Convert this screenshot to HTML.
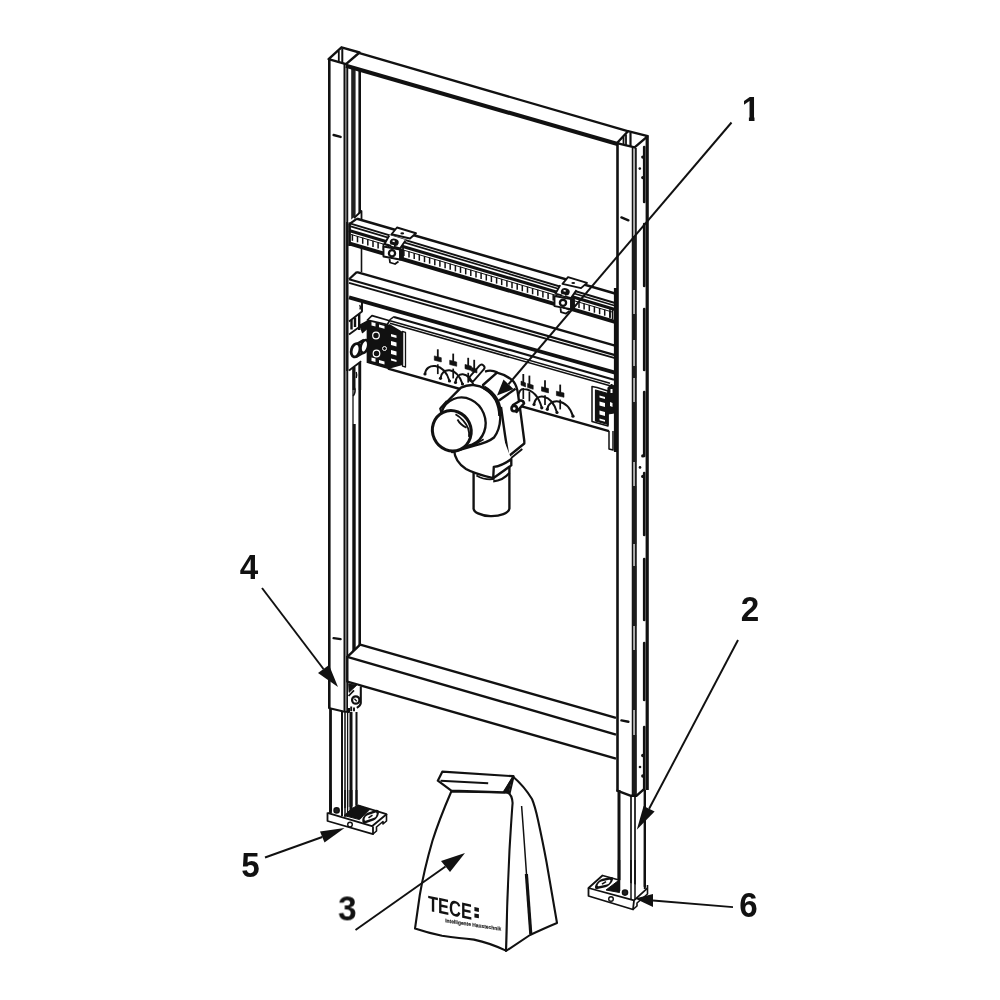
<!DOCTYPE html>
<html lang="en">
<head>
<meta charset="utf-8">
<title>TECE module</title>
<style>
html,body{margin:0;padding:0;background:#fff;}
body{width:1000px;height:1000px;overflow:hidden;}
svg{display:block;will-change:transform;filter:grayscale(1);}
svg text{font-family:"Liberation Sans",sans-serif;font-weight:bold;fill:#111;stroke:none;}
</style>
</head>
<body>
<svg width="1000" height="1000" viewBox="0 0 1000 1000" stroke="#111" fill="none" stroke-linecap="butt" stroke-linejoin="round">
<rect x="0" y="0" width="1000" height="1000" fill="#ffffff" stroke="none"/>
<!-- left post -->
<line x1="329.3" y1="59" x2="329.3" y2="708.5" stroke-width="2.6" />
<line x1="345.9" y1="65" x2="345.9" y2="711" stroke-width="2" stroke="#888"/>
<line x1="344.3" y1="64" x2="344.3" y2="711" stroke-width="1.6" />
<line x1="347.4" y1="65" x2="347.4" y2="711" stroke-width="1.7" />
<line x1="353.4" y1="67" x2="353.4" y2="222" stroke-width="4.4" stroke="#222"/>
<line x1="354" y1="424" x2="354" y2="651" stroke-width="3.4" />
<line x1="353" y1="366" x2="353" y2="424" stroke-width="1.3" />
<path d="M353.2 396 Q356 392 354.6 388" stroke-width="1.6" fill="none" />
<line x1="359.7" y1="69" x2="359.7" y2="645" stroke-width="2.6" />
<polygon points="328.6,59.2 341.5,47.3 359.5,52.5 346,64.2" stroke-width="2.4" fill="none" />
<line x1="338.8" y1="51" x2="338.8" y2="62.5" stroke-width="1.8" />
<line x1="342.3" y1="48.5" x2="342.3" y2="63.5" stroke-width="2" />
<line x1="333.6" y1="135" x2="340.6" y2="136.9" stroke-width="2.4" stroke-linecap="round"/>
<line x1="333.6" y1="638.1" x2="340.6" y2="639.1" stroke-width="2.4" stroke-linecap="round"/>
<path d="M328.6 708 L343.5 711.5 L349 712 L349 700" stroke-width="2" fill="none" />
<line x1="330.5" y1="708" x2="330.5" y2="813" stroke-width="2.8" />
<line x1="342" y1="712" x2="342" y2="816" stroke-width="2" />
<line x1="345" y1="712" x2="345" y2="817" stroke-width="1.5" />
<line x1="347.6" y1="712" x2="347.6" y2="817" stroke-width="1.3" />
<line x1="351" y1="712" x2="351" y2="812" stroke-width="3" />
<line x1="356.5" y1="712" x2="356.5" y2="806" stroke-width="2" />
<!-- right post -->
<line x1="617.5" y1="142" x2="617.5" y2="791" stroke-width="2.6" />
<line x1="632.6" y1="148" x2="632.6" y2="795" stroke-width="1.7" />
<line x1="635.9" y1="148" x2="635.9" y2="795" stroke-width="1.7" />
<line x1="634.2" y1="148" x2="634.2" y2="795" stroke-width="1.4" stroke="#aaa"/>
<line x1="647.2" y1="137" x2="647.2" y2="790" stroke-width="3.2" />
<polygon points="616.8,143.2 628,131.2 647.8,136.2 634.6,147.4" stroke-width="2.4" fill="none" />
<line x1="623.5" y1="137" x2="623.5" y2="145" stroke-width="1.8" />
<line x1="626" y1="134.5" x2="626" y2="146" stroke-width="1.8" />
<line x1="630.5" y1="132.5" x2="630.5" y2="146.8" stroke-width="2.2" />
<line x1="621.4" y1="217.4" x2="628.4" y2="220.3" stroke-width="2.4" stroke-linecap="round"/>
<line x1="621.4" y1="720.4" x2="628.4" y2="721.8" stroke-width="2.4" stroke-linecap="round"/>
<line x1="634.3" y1="236" x2="634.3" y2="290" stroke-width="4" stroke="#1c1c1c"/>
<line x1="634.3" y1="314" x2="634.3" y2="340" stroke-width="4" stroke="#1c1c1c"/>
<line x1="634.3" y1="366" x2="634.3" y2="378" stroke-width="4" stroke="#1c1c1c"/>
<line x1="634.3" y1="402" x2="634.3" y2="462" stroke-width="4" stroke="#1c1c1c"/>
<line x1="634.3" y1="486" x2="634.3" y2="544" stroke-width="4" stroke="#1c1c1c"/>
<line x1="634.3" y1="566" x2="634.3" y2="626" stroke-width="4" stroke="#1c1c1c"/>
<line x1="634.3" y1="650" x2="634.3" y2="710" stroke-width="4" stroke="#1c1c1c"/>
<line x1="634.3" y1="735" x2="634.3" y2="795" stroke-width="4" stroke="#1c1c1c"/>
<circle cx="639.8" cy="168.6" r="1.3" stroke-width="0" fill="#111" stroke="none"/>
<circle cx="642.8" cy="157.1" r="1.7" stroke-width="0" fill="#111" stroke="none"/>
<circle cx="642.8" cy="177.6" r="1.7" stroke-width="0" fill="#111" stroke="none"/>
<circle cx="640" cy="467.4" r="1.3" stroke-width="0" fill="#111" stroke="none"/>
<circle cx="642.8" cy="455.9" r="1.7" stroke-width="0" fill="#111" stroke="none"/>
<circle cx="642.8" cy="476.4" r="1.7" stroke-width="0" fill="#111" stroke="none"/>
<circle cx="640" cy="767" r="1.3" stroke-width="0" fill="#111" stroke="none"/>
<circle cx="642.8" cy="755.5" r="1.7" stroke-width="0" fill="#111" stroke="none"/>
<circle cx="642.8" cy="776" r="1.7" stroke-width="0" fill="#111" stroke="none"/>
<line x1="644.2" y1="147" x2="644.2" y2="202" stroke-width="2.6" stroke-linecap="round"/>
<line x1="644.2" y1="224" x2="644.2" y2="286" stroke-width="2.6" stroke-linecap="round"/>
<line x1="644.2" y1="309" x2="644.2" y2="370" stroke-width="2.6" stroke-linecap="round"/>
<line x1="644.2" y1="392" x2="644.2" y2="456" stroke-width="2.6" stroke-linecap="round"/>
<line x1="644.2" y1="473" x2="644.2" y2="535" stroke-width="2.6" stroke-linecap="round"/>
<line x1="644.2" y1="559" x2="644.2" y2="620" stroke-width="2.6" stroke-linecap="round"/>
<line x1="644.2" y1="643" x2="644.2" y2="700" stroke-width="2.6" stroke-linecap="round"/>
<line x1="644.2" y1="727" x2="644.2" y2="790" stroke-width="2.6" stroke-linecap="round"/>
<path d="M616.4 790.4 L631 795.8 L636.4 795.8 L644.6 788.6" stroke-width="2.4" fill="none" />
<line x1="619" y1="790" x2="619" y2="890" stroke-width="3" />
<line x1="631" y1="795" x2="631" y2="899" stroke-width="1.7" />
<line x1="635" y1="795" x2="635" y2="900" stroke-width="1.7" />
<line x1="644.8" y1="790" x2="644.8" y2="889" stroke-width="2.4" />
<!-- top beam -->
<line x1="359.5" y1="53.2" x2="628.5" y2="131.4" stroke-width="2.3" />
<line x1="346" y1="65.8" x2="617.5" y2="144" stroke-width="4.1" />
<!-- bottom beam -->
<polygon points="360.2,644.6 616,717.8 616,758.5 347.5,681.6 347.5,656.8" stroke-width="0" fill="#fff" stroke="none"/>
<line x1="360.2" y1="644.6" x2="616" y2="717.8" stroke-width="2.4" />
<line x1="347.3" y1="656.8" x2="616" y2="734.6" stroke-width="2.4" />
<line x1="347.3" y1="681.6" x2="616" y2="758.6" stroke-width="2.4" />
<line x1="347.3" y1="656" x2="347.3" y2="682.4" stroke-width="2.4" />
<line x1="360.4" y1="644.4" x2="347.3" y2="656.8" stroke-width="2.4" />
<g transform="translate(330 640) scale(0.08)">
<path d="M225 540 L385 580 L385 800 L330 850 L225 850 Z" fill="#fff" stroke="none"/>
<path d="M385 578 L385 790 Q380 825 335 848" stroke-width="26" fill="none" />
<path d="M232 545 L335 565 L238 655 Z" stroke-width="10" fill="#111" />
<path d="M232 700 L300 630" stroke-width="22" fill="none" />
<circle cx="322" cy="750" r="46" stroke-width="28" fill="#fff" />
<path d="M305 735 L335 765" stroke-width="16" fill="none" />
<path d="M265 830 L265 890 M300 845 L300 890" stroke-width="24" fill="none" />
</g>
<!-- flange on left post -->
<polygon points="348.2,222 361.5,211 362.5,360.5 348.2,371" stroke-width="0" fill="#fff" stroke="none"/>
<path d="M354 218 L361.5 211 L361.5 222" stroke-width="1.8" fill="none" />
<line x1="347.3" y1="222" x2="347.3" y2="371" stroke-width="2.4" />
<line x1="361.5" y1="246" x2="361.5" y2="272" stroke-width="1.6" />
<line x1="362" y1="302" x2="362" y2="311" stroke-width="1.6" />
<!-- upper rail -->
<polygon points="357,218.73 615,293.55 615,321.82 349,243.35 349,223.1" stroke-width="0" fill="#fff" stroke="none"/>
<line x1="357" y1="218.73" x2="615" y2="293.55" stroke-width="2.5" />
<line x1="349" y1="223.2" x2="615" y2="303.0" stroke-width="1.9" />
<line x1="349" y1="225.9" x2="615" y2="305.7" stroke-width="1.7" />
<line x1="349" y1="230.47" x2="615" y2="309.48" stroke-width="3.1" />
<line x1="351" y1="234.47" x2="613" y2="312.28" stroke-width="1" />
<line x1="349" y1="243.35" x2="615" y2="321.82" stroke-width="4" />
<line x1="352.4" y1="234.58" x2="352.4" y2="240.8" stroke-width="1.5" />
<line x1="357.5" y1="236.11" x2="357.5" y2="242.3" stroke-width="1.5" />
<line x1="362.7" y1="237.64" x2="362.7" y2="243.8" stroke-width="1.5" />
<line x1="367.8" y1="239.17" x2="367.8" y2="245.4" stroke-width="1.5" />
<line x1="373.0" y1="240.7" x2="373.0" y2="246.9" stroke-width="1.5" />
<line x1="378.1" y1="242.23" x2="378.1" y2="248.4" stroke-width="1.5" />
<line x1="383.3" y1="243.76" x2="383.3" y2="250.0" stroke-width="1.5" />
<line x1="388.4" y1="245.29" x2="388.4" y2="251.5" stroke-width="1.5" />
<line x1="393.6" y1="246.82" x2="393.6" y2="253.0" stroke-width="1.5" />
<line x1="398.7" y1="248.35" x2="398.7" y2="254.5" stroke-width="1.5" />
<line x1="403.9" y1="249.88" x2="403.9" y2="256.1" stroke-width="1.5" />
<line x1="409.0" y1="251.41" x2="409.0" y2="257.6" stroke-width="1.5" />
<line x1="414.2" y1="252.94" x2="414.2" y2="259.1" stroke-width="1.5" />
<line x1="419.3" y1="254.47" x2="419.3" y2="260.7" stroke-width="1.5" />
<line x1="424.5" y1="256.0" x2="424.5" y2="262.2" stroke-width="1.5" />
<line x1="429.6" y1="257.53" x2="429.6" y2="263.7" stroke-width="1.5" />
<line x1="434.8" y1="259.06" x2="434.8" y2="265.3" stroke-width="1.5" />
<line x1="439.9" y1="260.59" x2="439.9" y2="266.8" stroke-width="1.5" />
<line x1="445.1" y1="262.11" x2="445.1" y2="268.3" stroke-width="1.5" />
<line x1="450.2" y1="263.64" x2="450.2" y2="269.8" stroke-width="1.5" />
<line x1="455.4" y1="265.17" x2="455.4" y2="271.4" stroke-width="1.5" />
<line x1="460.5" y1="266.7" x2="460.5" y2="272.9" stroke-width="1.5" />
<line x1="465.7" y1="268.23" x2="465.7" y2="274.4" stroke-width="1.5" />
<line x1="470.8" y1="269.76" x2="470.8" y2="276.0" stroke-width="1.5" />
<line x1="476.0" y1="271.29" x2="476.0" y2="277.5" stroke-width="1.5" />
<line x1="481.1" y1="272.82" x2="481.1" y2="279.0" stroke-width="1.5" />
<line x1="486.3" y1="274.35" x2="486.3" y2="280.6" stroke-width="1.5" />
<line x1="491.4" y1="275.88" x2="491.4" y2="282.1" stroke-width="1.5" />
<line x1="496.6" y1="277.41" x2="496.6" y2="283.6" stroke-width="1.5" />
<line x1="501.7" y1="278.94" x2="501.7" y2="285.1" stroke-width="1.5" />
<line x1="506.9" y1="280.47" x2="506.9" y2="286.7" stroke-width="1.5" />
<line x1="512.0" y1="282.0" x2="512.0" y2="288.2" stroke-width="1.5" />
<line x1="517.2" y1="283.53" x2="517.2" y2="289.7" stroke-width="1.5" />
<line x1="522.3" y1="285.06" x2="522.3" y2="291.3" stroke-width="1.5" />
<line x1="527.5" y1="286.59" x2="527.5" y2="292.8" stroke-width="1.5" />
<line x1="532.6" y1="288.12" x2="532.6" y2="294.3" stroke-width="1.5" />
<line x1="537.8" y1="289.65" x2="537.8" y2="295.8" stroke-width="1.5" />
<line x1="542.9" y1="291.18" x2="542.9" y2="297.4" stroke-width="1.5" />
<line x1="548.1" y1="292.71" x2="548.1" y2="298.9" stroke-width="1.5" />
<line x1="553.2" y1="294.24" x2="553.2" y2="300.4" stroke-width="1.5" />
<line x1="558.4" y1="295.76" x2="558.4" y2="302.0" stroke-width="1.5" />
<line x1="563.5" y1="297.29" x2="563.5" y2="303.5" stroke-width="1.5" />
<line x1="568.7" y1="298.82" x2="568.7" y2="305.0" stroke-width="1.5" />
<line x1="573.8" y1="300.35" x2="573.8" y2="306.6" stroke-width="1.5" />
<line x1="579.0" y1="301.88" x2="579.0" y2="308.1" stroke-width="1.5" />
<line x1="584.1" y1="303.41" x2="584.1" y2="309.6" stroke-width="1.5" />
<line x1="589.3" y1="304.94" x2="589.3" y2="311.1" stroke-width="1.5" />
<line x1="594.4" y1="306.47" x2="594.4" y2="312.7" stroke-width="1.5" />
<line x1="599.6" y1="308.0" x2="599.6" y2="314.2" stroke-width="1.5" />
<line x1="604.7" y1="309.53" x2="604.7" y2="315.7" stroke-width="1.5" />
<line x1="609.9" y1="311.06" x2="609.9" y2="317.3" stroke-width="1.5" />
<line x1="349.6" y1="224" x2="349.6" y2="246" stroke-width="2.6" />
<path d="M349 224.3 L357 218.6" stroke-width="2.2" fill="none" />
<!-- lower rail -->
<polygon points="357,271.75 615,345.27 615,372.77 349,296.96 349,278.46" stroke-width="0" fill="#fff" stroke="none"/>
<line x1="357" y1="272.05" x2="615" y2="345.57" stroke-width="2.4" />
<line x1="349" y1="279.26" x2="615" y2="355.07" stroke-width="2.2" />
<line x1="349" y1="282.97" x2="615" y2="358.24" stroke-width="1.8" />
<line x1="349" y1="297.37" x2="615" y2="372.64" stroke-width="3.8" />
<path d="M357 271.9 L349 279.2" stroke-width="2.2" fill="none" />
<line x1="615.6" y1="288" x2="615.6" y2="452" stroke-width="3.4" />
<path d="M610 308.5 L610 318 M612.6 309 L612.6 319" stroke-width="1.6" fill="none" />
<!-- mounting plate -->
<polygon points="394,316.5 614,379.49 609,384.96 609,431 388,368 389,320" stroke-width="0" fill="#fff" stroke="none"/>
<line x1="394" y1="316.99" x2="614" y2="379.69" stroke-width="2.2" />
<line x1="390" y1="320.65" x2="610" y2="383.35" stroke-width="1.6" />
<line x1="390" y1="323.15" x2="610" y2="385.85" stroke-width="1.6" />
<path d="M389.5 320 L394 316.6" stroke-width="1.4" fill="none" />
<line x1="388" y1="368.6" x2="609" y2="431.15" stroke-width="2.5" />
<path d="M609 431 L609 449 L613 450 L613 431" stroke-width="1.5" fill="none" />
<path d="M402.5 331.5 L405.5 332.3 L405.5 367 L402.5 366.2 Z" stroke-width="1.3" fill="#fff" />
<!-- left bracket -->
<polygon points="367.4,321 387,326 389.5,325 402.4,332.6 402.4,364.2 388,368.3 367.4,362.4" stroke-width="1.5" fill="#111" />
<polygon points="367.4,320 372,315.6 389.6,320.8 387.2,324.6" stroke-width="1.7" fill="#fff" />
<polygon points="371.5,322 375.5,323 375.5,326.5 371.5,325.5" stroke-width="0" fill="#fff" stroke="none"/>
<polygon points="379,324.5 384.5,326 384.5,328.8 379,327.3" stroke-width="0" fill="#fff" stroke="none"/>
<polygon points="391,334 396.5,335.5 396.5,338 391,336.5" stroke-width="0" fill="#fff" stroke="none"/>
<polygon points="391,341 396.5,342.5 396.5,346.5 391,345" stroke-width="0" fill="#fff" stroke="none"/>
<polygon points="391,350 396.5,351.5 396.5,355.5 391,354" stroke-width="0" fill="#fff" stroke="none"/>
<polygon points="391,358.5 396.5,360 396.5,362 391,360.5" stroke-width="0" fill="#fff" stroke="none"/>
<polygon points="371.5,357.5 375.5,358.5 375.5,362 371.5,361" stroke-width="0" fill="#fff" stroke="none"/>
<polygon points="379,360 384.5,361.5 384.5,364.5 379,363" stroke-width="0" fill="#fff" stroke="none"/>
<circle cx="376" cy="335.5" r="3.3" stroke-width="1.2" fill="none" stroke="#fff"/>
<circle cx="376.5" cy="353.5" r="3.3" stroke-width="1.2" fill="none" stroke="#fff"/>
<circle cx="384.5" cy="348.5" r="2" stroke-width="1" fill="none" stroke="#fff"/>
<ellipse cx="355.6" cy="350.3" rx="4.2" ry="6.8" transform="rotate(15 355.6 350.3)" stroke-width="2.8" fill="#fff"/>
<path d="M357.5 343.6 L364 339.8 M356 357 L363 353" stroke-width="2.4" fill="none" />
<ellipse cx="364.4" cy="346.4" rx="3.6" ry="6.6" transform="rotate(15 364.4 346.4)" stroke-width="2.6" fill="#fff"/>
<polygon points="360,325 366.5,321.5 366.5,329 362.5,332.5" stroke-width="1.4" fill="#111" />
<g transform="translate(330 290) scale(0.1)">
<path d="M320 120 L320 215 L190 315" stroke-width="18" fill="none" />
<path d="M296 150 Q310 165 300 195" stroke-width="14" fill="none" />
<path d="M215 300 L215 395 M250 275 L250 370 M292 240 L292 400" stroke-width="24" fill="none" />
<path d="M190 445 L300 365" stroke-width="18" fill="none" />
<path d="M190 805 L312 712" stroke-width="18" fill="none" />
<path d="M240 770 L240 1000" stroke-width="30" fill="none" />
<path d="M300 730 L300 1000" stroke-width="24" fill="none" />
<path d="M262 820 Q272 850 262 880" stroke-width="14" fill="none" />
</g>
<!-- right bracket -->
<polygon points="592,386.5 597,387.5 608,391 608,426 592,421.5" stroke-width="1.5" fill="#fff" />
<polygon points="595.5,390 608,393.5 608,424.5 595.5,421" stroke-width="1.2" fill="#111" />
<polygon points="599.5,395.5 605,397 605,399 599.5,397.5" stroke-width="0" fill="#fff" stroke="none"/>
<polygon points="599.5,401.5 605,403 605,407 599.5,405.5" stroke-width="0" fill="#fff" stroke="none"/>
<polygon points="599.5,410.5 605,412 605,416 599.5,414.5" stroke-width="0" fill="#fff" stroke="none"/>
<polygon points="599.5,418.5 605,420 605,421.8 599.5,420.3" stroke-width="0" fill="#fff" stroke="none"/>
<polygon points="608,388 611.5,384.5 614,386 614,413 608,414" stroke-width="1.2" fill="#111" />
<path d="M610.5 389 l2 0 l0 4 l-2 0 Z M610 402 l2.5 1 l0 4 l-2.5 -1 Z" fill="#fff" stroke="none"/>
<!-- plate symbols -->
<line x1="472" y1="378.6" x2="481.6" y2="367.6" stroke-width="7.6" stroke-linecap="round"/>
<line x1="472" y1="378.6" x2="481.6" y2="367.6" stroke-width="3.8" stroke-linecap="round" stroke="#fff"/>
<line x1="437.8" y1="349.3" x2="437.8" y2="357.8" stroke-width="1.8" />
<polygon points="434.3,355.90000000000003 441.3,357.7 441.3,362.0 434.3,360.20000000000005" stroke-width="0.6" fill="#111" />
<line x1="437.8" y1="364.3" x2="437.8" y2="374.1" stroke-width="1.7" />
<line x1="453.2" y1="353.6" x2="453.2" y2="362.1" stroke-width="1.8" />
<polygon points="449.7,360.20000000000005 456.7,362.0 456.7,366.3 449.7,364.50000000000006" stroke-width="0.6" fill="#111" />
<line x1="453.2" y1="368.6" x2="453.2" y2="378.40000000000003" stroke-width="1.7" />
<line x1="468.2" y1="357.8" x2="468.2" y2="366.3" stroke-width="1.8" />
<polygon points="465.0,364.40000000000003 471.4,366.2 471.4,370.5 465.0,368.70000000000005" stroke-width="0.6" fill="#111" />
<line x1="468.2" y1="372.8" x2="468.2" y2="382.6" stroke-width="1.7" />
<line x1="474.2" y1="359.8" x2="474.2" y2="369.3" stroke-width="1.8" />
<polygon points="471.45,367.40000000000003 476.95,369.2 476.95,373.0 471.45,371.20000000000005" stroke-width="0.6" fill="#111" />
<path d="M425 374 C426 362.75 443.5 361.85 449.5 381" stroke-width="2" fill="none" />
<circle cx="425" cy="374" r="1.6" stroke-width="0" fill="#111" stroke="none"/>
<circle cx="449.5" cy="381" r="1.6" stroke-width="0" fill="#111" stroke="none"/>
<path d="M440.5 378.3 C441.5 367.05 456.5 366.15000000000003 462.5 384" stroke-width="2" fill="none" />
<circle cx="440.5" cy="378.3" r="1.6" stroke-width="0" fill="#111" stroke="none"/>
<circle cx="462.5" cy="384" r="1.6" stroke-width="0" fill="#111" stroke="none"/>
<path d="M455.5 382.5 C456.5 371.25 468 370.35 474 386" stroke-width="2" fill="none" />
<circle cx="455.5" cy="382.5" r="1.6" stroke-width="0" fill="#111" stroke="none"/>
<circle cx="474" cy="386" r="1.6" stroke-width="0" fill="#111" stroke="none"/>
<line x1="523.3" y1="374" x2="523.3" y2="383" stroke-width="1.8" />
<polygon points="521.0,381.1 525.5999999999999,382.9 525.5999999999999,386.9 521.0,385.1" stroke-width="0.6" fill="#111" />
<line x1="523.3" y1="389.2" x2="523.3" y2="399" stroke-width="1.7" />
<line x1="529.4" y1="375.6" x2="529.4" y2="385.40000000000003" stroke-width="1.8" />
<polygon points="527.6,383.50000000000006 533.1999999999999,385.3 533.1999999999999,389.3 527.6,387.50000000000006" stroke-width="0.6" fill="#111" />
<line x1="529.4" y1="391.6" x2="529.4" y2="401.40000000000003" stroke-width="1.7" />
<line x1="545" y1="380.2" x2="545" y2="388.7" stroke-width="1.8" />
<polygon points="541.5,386.8 548.5,388.59999999999997 548.5,392.9 541.5,391.1" stroke-width="0.6" fill="#111" />
<line x1="545" y1="395.2" x2="545" y2="405.0" stroke-width="1.7" />
<line x1="560.2" y1="384.6" x2="560.2" y2="393.1" stroke-width="1.8" />
<polygon points="556.4000000000001,391.20000000000005 564.0,393.0 564.0,397.3 556.4000000000001,395.50000000000006" stroke-width="0.6" fill="#111" />
<line x1="560.2" y1="399.6" x2="560.2" y2="409.40000000000003" stroke-width="1.7" />
<path d="M518 398 C518.5 391 521 388.6 524 389 C530 389.6 538 394 541.8 407.8" stroke-width="2" fill="none" />
<circle cx="541.8" cy="407.8" r="1.6" stroke-width="0" fill="#111" stroke="none"/>
<path d="M534 404.5 C535 393.25 551 392.35 557 412.5" stroke-width="2" fill="none" />
<circle cx="534" cy="404.5" r="1.6" stroke-width="0" fill="#111" stroke="none"/>
<circle cx="557" cy="412.5" r="1.6" stroke-width="0" fill="#111" stroke="none"/>
<path d="M547.3 409.3 C548.3 398.05 567 397.15000000000003 573 416.2" stroke-width="2" fill="none" />
<circle cx="547.3" cy="409.3" r="1.6" stroke-width="0" fill="#111" stroke="none"/>
<circle cx="573" cy="416.2" r="1.6" stroke-width="0" fill="#111" stroke="none"/>
<!-- clips on upper rail -->
<g transform="translate(375 220) scale(0.05)">
<path d="M290 300 L190 480 L500 570 L620 400 Z" fill="#fff" stroke="none"/>
<path d="M285 310 L190 480 L500 570 L610 410" stroke-width="38" fill="none" />
<path d="M330 285 L440 150 L820 265 L700 370 Z" stroke-width="38" fill="#fff" />
<ellipse cx="545" cy="268" rx="38" ry="22" fill="#111" stroke="none"/>
<ellipse cx="385" cy="445" rx="90" ry="72" transform="rotate(15 385 445)" fill="#111" stroke="none"/>
<path d="M325 488 l55 15 l0 26 l-55 -15 Z M355 405 l45 12 l-10 28 l-42 -12 Z" fill="#fff" stroke="none"/>
<path d="M170 530 L500 590 L500 790 L170 730 Z" stroke-width="38" fill="#fff" />
<circle cx="340" cy="665" r="62" stroke-width="46" fill="#fff" />
<path d="M500 590 L570 560 L570 770 L500 800 Z" stroke-width="16" fill="#111" />
<path d="M290 770 L300 850 L400 880 L470 830" stroke-width="36" fill="#fff" />
</g>
<g transform="translate(546 269.6) scale(0.05)">
<path d="M290 300 L190 480 L500 570 L620 400 Z" fill="#fff" stroke="none"/>
<path d="M285 310 L190 480 L500 570 L610 410" stroke-width="38" fill="none" />
<path d="M330 285 L440 150 L820 265 L700 370 Z" stroke-width="38" fill="#fff" />
<ellipse cx="545" cy="268" rx="38" ry="22" fill="#111" stroke="none"/>
<ellipse cx="385" cy="445" rx="90" ry="72" transform="rotate(15 385 445)" fill="#111" stroke="none"/>
<path d="M325 488 l55 15 l0 26 l-55 -15 Z M355 405 l45 12 l-10 28 l-42 -12 Z" fill="#fff" stroke="none"/>
<path d="M170 530 L500 590 L500 790 L170 730 Z" stroke-width="38" fill="#fff" />
<circle cx="340" cy="665" r="62" stroke-width="46" fill="#fff" />
<path d="M500 590 L570 560 L570 770 L500 800 Z" stroke-width="16" fill="#111" />
<path d="M290 770 L300 850 L400 880 L470 830" stroke-width="36" fill="#fff" />
</g>
<!-- siphon -->
<path d="M473.6 470 L473.6 507.6 A17.9 8 0 0 0 509.4 508.6 L509.4 466 Z" stroke-width="2.36" fill="#fff" />
<path d="M476.4 475.4 Q485 480.6 494.6 479" stroke-width="1.77" fill="none" />
<path d="M493.2 481.4 Q503 480.6 509.4 473" stroke-width="2.36" fill="none" />
<path d="M483 385 L497 372.6 Q507 375 513.5 381.5 Q517 386 518 394 L520.5 412 L524.3 441 L524.3 443.5 L508.6 456.3 L506 458.5 L500 440 Z" stroke-width="2.36" fill="#fff" />
<path d="M499 400.5 L515.5 388.8" stroke-width="2.36" fill="none" />
<path d="M485 371.6 Q491 369.4 497.2 372.4" stroke-width="2.36" fill="none" />
<path d="M501 407 L505 435 L508.3 456" stroke-width="2.36" fill="none" />
<path d="M522.3 449 L509 459.8" stroke-width="1.89" fill="none" />
<path d="M513 405 L520.5 400.5 Q523.5 400.3 524 403.5 L516.5 411.8 Z" stroke-width="2.6" fill="#fff" />
<circle cx="514.2" cy="408.6" r="2.7" stroke-width="2.6" fill="#fff" />
<path d="M454 450 Q455 462 466 469 Q474 473.5 493.2 478.2 L511.3 465.4 L511.3 459 L500 430 L470 440 Z" fill="#fff" stroke="none"/>
<path d="M454 450 Q455 462 466 469 Q474 473.5 493.2 478.2 L493.8 466.8 Q502 466 511.3 459 L511.3 465.4 L493.2 478.2" stroke-width="2.36" fill="none" />
<path d="M440.3 408.5 L461 387.6 Q467 384.6 473.5 385 Q487 386.5 495 398 Q500.5 407 500.3 418 Q499.8 430 494 437.5 Q488 442.5 474.5 445.5 L452 452 Z" stroke-width="2.36" fill="#fff" />
<path d="M484 387.6 Q492 392 496.6 400 Q500 407 500.2 416" stroke-width="4.01" fill="none" />
<ellipse cx="462.9" cy="421.8" rx="22.4" ry="24.6" transform="rotate(-22 462.9 421.8)" stroke-width="2.36" fill="#fff"/>
<path d="M473.5 445.2 L483.6 439.2" stroke-width="1.77" fill="none" />
<path d="M441 407.5 L446.8 400.8" stroke-width="1.77" fill="none" />
<ellipse cx="451.8" cy="430.8" rx="19.2" ry="20.4" transform="rotate(-25 451.8 430.8)" stroke-width="3.07" fill="#fff"/>
<path d="M455.5 414.2 Q464.5 419.5 468.2 428.5 Q469.6 433 469 437" stroke-width="1.89" fill="none" />
<path d="M457.5 419.5 Q460 424.5 466.5 427.8" stroke-width="1.77" fill="none" />
<!-- left foot -->
<polygon points="327.5,812.5 357,805 386.5,814 386.5,821 373,834 327.5,821" stroke-width="0" fill="#fff" stroke="none"/>
<polygon points="344,815.5 352,808.5 358,805.2 369.5,809.8 359.5,819.6" stroke-width="1" fill="#111" />
<line x1="330.5" y1="790" x2="330.5" y2="813" stroke-width="2.8" />
<line x1="342" y1="790" x2="342" y2="816" stroke-width="2" />
<line x1="345" y1="790" x2="345" y2="817" stroke-width="1.5" />
<line x1="347.6" y1="790" x2="347.6" y2="817" stroke-width="1.3" />
<line x1="351" y1="790" x2="351" y2="812" stroke-width="3" />
<line x1="356.5" y1="790" x2="356.5" y2="806" stroke-width="2" />
<path d="M327.5 812.8 L372 826.2 L386.5 814.2 L358 805.3" stroke-width="1.8" fill="none" />
<path d="M327.5 812.5 L327.5 821 L373 834.2 L373 826.5" stroke-width="1.8" fill="none" />
<path d="M386.5 814 L386.5 821 L383 824 L383 821.5 L376.5 827 L376.5 831 L373 834" stroke-width="1.6" fill="none" />
<rect x="-7.6" y="-3.4" width="15.2" height="6.8" rx="3.4" transform="translate(370.6 816.6) rotate(-20) skewX(-30)" fill="#fff" stroke="#111" stroke-width="2.4"/>
<path d="M368.5 817.8 L372.5 815.2" stroke-width="1.6" fill="none" />
<circle cx="336.6" cy="810.4" r="2.6" stroke-width="1.4" fill="#222" />
<circle cx="350" cy="824.6" r="2.3" stroke-width="1.4" fill="#fff" />
<!-- right foot -->
<polygon points="588.5,888 602.5,875.5 620,880 647.5,888 647.5,894 633,909.5 588.5,896" stroke-width="0" fill="#fff" stroke="none"/>
<polygon points="606,890 618.5,880.5 619.5,892.5" stroke-width="1" fill="#111" />
<line x1="619" y1="860" x2="619" y2="891" stroke-width="2.6" />
<line x1="631" y1="860" x2="631" y2="899" stroke-width="1.5" />
<line x1="635" y1="860" x2="635" y2="900" stroke-width="1.5" />
<line x1="644.8" y1="860" x2="644.8" y2="889" stroke-width="2" />
<path d="M619 880 L602.5 875.5 L588.5 888 L634 900.3 L647.5 888.2" stroke-width="1.8" fill="none" />
<path d="M588.5 888 L588.5 896 L633 909.5 L634 900.5" stroke-width="1.8" fill="none" />
<path d="M647.5 885 L647.5 894 L637 903 L637 906 L633 909.5" stroke-width="1.6" fill="none" />
<rect x="-7.4" y="-3.3" width="14.8" height="6.6" rx="3.3" transform="translate(604 883) rotate(-12) skewX(-38)" fill="#fff" stroke="#111" stroke-width="2.4"/>
<path d="M602 884.2 L606 881.6" stroke-width="1.6" fill="none" />
<circle cx="625" cy="892.6" r="2.6" stroke-width="1.4" fill="#222" />
<circle cx="611" cy="899" r="2.3" stroke-width="1.4" fill="#fff" />
<!-- bag -->
<path d="M513.4 777 Q524 786 532 799 Q535 806 538 820 Q543 843 546.5 862 L557 923 Q545 928 530 935 L506 951 L508 800 Z" stroke-width="2.1" fill="#fff" />
<path d="M451.3 791.5 Q439 820 432.4 841 Q424 870 419.8 895 L415 928.6 Q428 933 442 935.8 Q460 938.4 474 939.6 Q490 943 506 950.6 Q507 900 509.5 850 Q511.6 815 512.6 803 Q512 794 507 792.6 L504.4 792.4 Z" stroke-width="2.1" fill="#fff" />
<path d="M521.6 806 Q525 850 530.5 934" stroke-width="1.5" fill="none" />
<path d="M526.4 874 L530.8 934" stroke-width="3.2" fill="none" />
<path d="M442.3 771.7 L513.4 776.2 L504.4 792.4 L451.3 790.6 L437.8 780.7 Z" stroke-width="2.2" fill="#fff" />
<path d="M440.5 780.7 L488.2 783.2" stroke-width="2" fill="none" />
<path d="M513.6 776.4 L503.4 792.2 L508.6 791.4 Q509.5 783 513.6 776.4 Z" stroke-width="1.6" fill="#111" />
<g transform="translate(428 910.7) skewY(11.8)"><text x="0" y="0" font-size="22" textLength="44" lengthAdjust="spacingAndGlyphs" style="font-weight:bold">TECE</text><rect x="46.4" y="-13.3" width="4.5" height="4" fill="#111" stroke="none"/><rect x="46.4" y="-7" width="4.5" height="4" fill="#111" stroke="none"/></g>
<g transform="translate(445.2 922.3) skewY(8.6)"><text x="0" y="0" font-size="5.3" textLength="56" lengthAdjust="spacingAndGlyphs" style="font-weight:bold;stroke:#111;stroke-width:0.12px">Intelligente Haustechnik</text></g>
<!-- leaders -->
<line x1="731.5" y1="122.5" x2="508.5" y2="384.25" stroke-width="1.95" />
<polygon points="497,395.5 503.5,379.5 513.5,389" fill="#111" stroke="none"/>
<line x1="738" y1="640" x2="649.1" y2="808.8" stroke-width="1.95" />
<polygon points="636.8,829.8 643.6,806 654.6,811.6" fill="#111" stroke="none"/>
<line x1="355.5" y1="930" x2="445.5" y2="866.5" stroke-width="1.95" />
<polygon points="465,853 441,861 450,872" fill="#111" stroke="none"/>
<line x1="262" y1="588" x2="323.5" y2="669.0" stroke-width="1.95" />
<polygon points="338,687 318,673 329,665" fill="#111" stroke="none"/>
<line x1="265" y1="857.5" x2="322.25" y2="837.0" stroke-width="1.95" />
<polygon points="344.5,828 320,831.5 324.5,842.5" fill="#111" stroke="none"/>
<line x1="733" y1="907.1" x2="653.0" y2="900.5" stroke-width="1.95" />
<polygon points="635,898.5 653,894 653,907" fill="#111" stroke="none"/>
<!-- labels -->
<g opacity="0.999">
<clipPath id="c1"><path d="M736 90 H754.5 V123 H748.9 V116.9 H736 Z"/></clipPath>
<g clip-path="url(#c1)">
<text transform="translate(751 121) scale(0.96 1)" x="0" y="0" font-size="34.6" text-anchor="middle">1</text>
</g>
<text transform="translate(750 621) scale(0.96 1)" x="0" y="0" font-size="34.6" text-anchor="middle">2</text>
<text transform="translate(347.2 920.4) scale(0.96 1)" x="0" y="0" font-size="34.6" text-anchor="middle">3</text>
<text transform="translate(248.9 579) scale(0.96 1)" x="0" y="0" font-size="34.6" text-anchor="middle">4</text>
<text transform="translate(250.6 877.3) scale(0.96 1)" x="0" y="0" font-size="34.6" text-anchor="middle">5</text>
<text transform="translate(748.5 917) scale(0.96 1)" x="0" y="0" font-size="34.6" text-anchor="middle">6</text>
</g>
</svg>
</body>
</html>
